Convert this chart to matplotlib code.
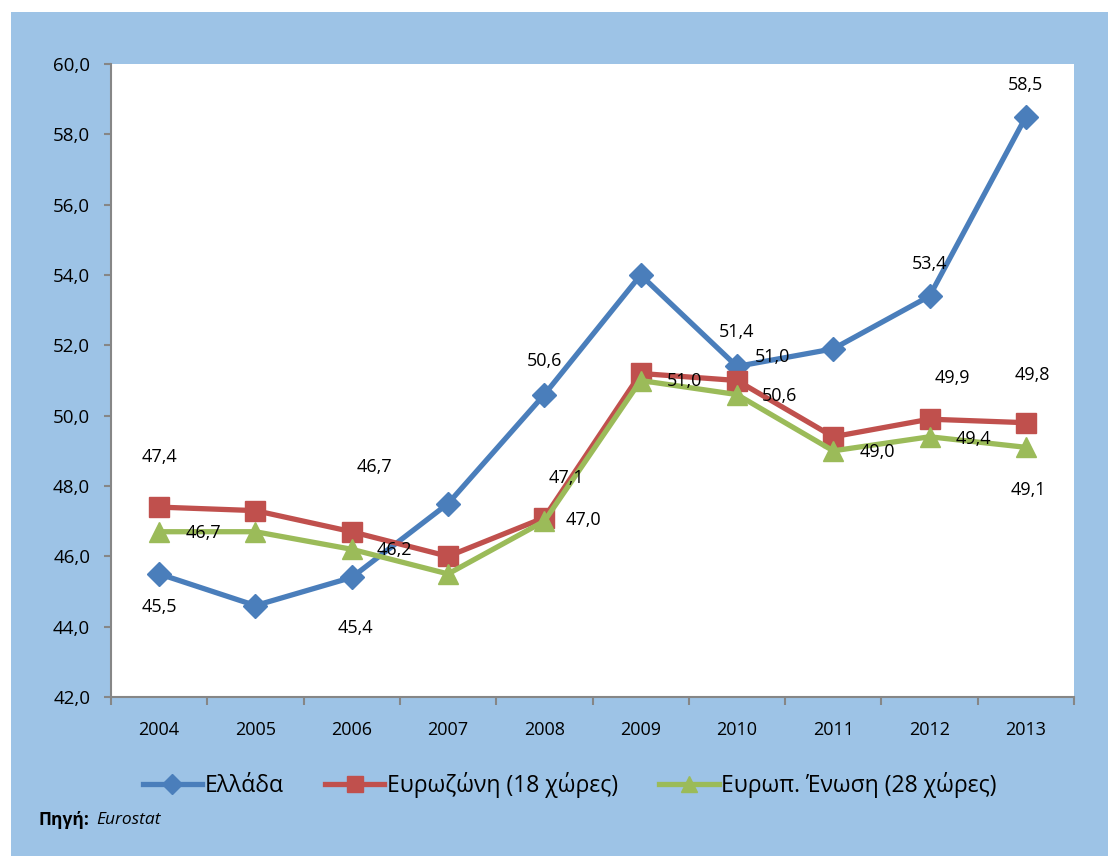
import matplotlib.pyplot as plt
from matplotlib.patches import Rectangle
from matplotlib.lines import Line2D

# === Data ===
years = ["2004", "2005", "2006", "2007", "2008", "2009", "2010", "2011", "2012", "2013"]
greece = [45.5, 44.6, 45.4, 47.5, 50.6, 54.0, 51.4, 51.9, 53.4, 58.5]
eurozone = [47.4, 47.3, 46.7, 46.0, 47.1, 51.2, 51.0, 49.4, 49.9, 49.8]
eu28 = [46.7, 46.7, 46.2, 45.5, 47.0, 51.0, 50.6, 49.0, 49.4, 49.1]
series_names = ["Ελλάδα", "Ευρωζώνη (18 χώρες)", "Ευρωπ. Ένωση (28 χώρες)"]
y_ticks = [42, 44, 46, 48, 50, 52, 54, 56, 58, 60]

# which points carry a data label, and where it sits (offset in pixels)
greece_labels = {0: (0, -33), 2: (4, -51), 4: (0, 34), 6: (0, 34), 8: (0, 32), 9: (0, 32)}
eurozone_labels = {0: (0, 50), 2: (23, 65), 4: (22, 40), 6: (36, 24), 8: (23, 41), 9: (6, 48)}
eu28_labels = {0: (44, -1), 2: (43, -1), 4: (39, 1), 5: (44, -1), 6: (43, -1),
               7: (44, -1), 8: (44, -2), 9: (3, -43)}

BG = "#9DC3E6"
FONT = "Open Sans"
plt.rcParams["font.family"] = [FONT, "DejaVu Sans"]

fig = plt.figure(figsize=(11.08, 8.56), dpi=100)
fig.patch.set_facecolor("white")
fig.patches.append(Rectangle((11 / 1108, 0), 1, 1 - 12 / 856, transform=fig.transFigure,
                             facecolor=BG, edgecolor="none", zorder=-10))

ax = fig.add_axes([111 / 1108, 1 - 697 / 856, 963 / 1108, 633 / 856])
ax.set_facecolor("white")

x = list(range(len(years)))
styles = [
    (greece, "#4A7EBB", "D", 12, greece_labels),
    (eurozone, "#C0504D", "s", 14, eurozone_labels),
    (eu28, "#9BBB59", "^", 14, eu28_labels),
]
handles = []
for (vals, color, marker, ms, labels), name in zip(styles, series_names):
    ax.plot(x, vals, color=color, lw=3.8, marker=marker, markersize=ms,
            markeredgecolor=color, markerfacecolor=color, label=name, zorder=3)
    handles.append(Line2D([], [], color=color, lw=3.8, marker=marker,
                          markersize=ms * 0.85, markeredgecolor=color))
    for i, (dx, dy) in labels.items():
        ax.annotate(f"{vals[i]:.1f}".replace(".", ","), (x[i], vals[i]),
                    xytext=(dx, dy), textcoords="offset pixels",
                    ha="center", va="center", fontsize=13, color="black", zorder=4)

ax.set_xlim(-0.5, len(years) - 0.5)
ax.set_ylim(42, 60)
ax.set_yticks(y_ticks)
ax.set_yticklabels([f"{v:.1f}".replace(".", ",") for v in y_ticks], fontsize=13.5)
ax.set_xticks(x)
ax.set_xticklabels(years, fontsize=13)
ax.set_xticks([i - 0.5 for i in range(len(years) + 1)], minor=True)
ax.tick_params(axis="x", which="major", length=0, pad=17)
ax.tick_params(axis="x", which="minor", length=6, color="#868686", width=1.5)
ax.tick_params(axis="y", length=5, color="#868686", width=1.5, pad=10)

for side in ["top", "right"]:
    ax.spines[side].set_visible(False)
for side in ["left", "bottom"]:
    ax.spines[side].set_color("#868686")
    ax.spines[side].set_linewidth(1.5)

fig.legend(handles, series_names, loc="center", bbox_to_anchor=(0.514, 1 - 785 / 856),
           ncol=3, frameon=False, fontsize=16.5, handlelength=2.6, handletextpad=0.1,
           columnspacing=1.8)

fig.text(38 / 1108, 1 - 820 / 856, "Πηγή:", fontsize=12.5, fontweight="bold", va="center")
fig.text(96 / 1108, 1 - 820 / 856, "Eurostat", fontsize=12.5, fontstyle="italic", va="center")

fig.savefig("out.png", dpi=100, facecolor=fig.get_facecolor())
